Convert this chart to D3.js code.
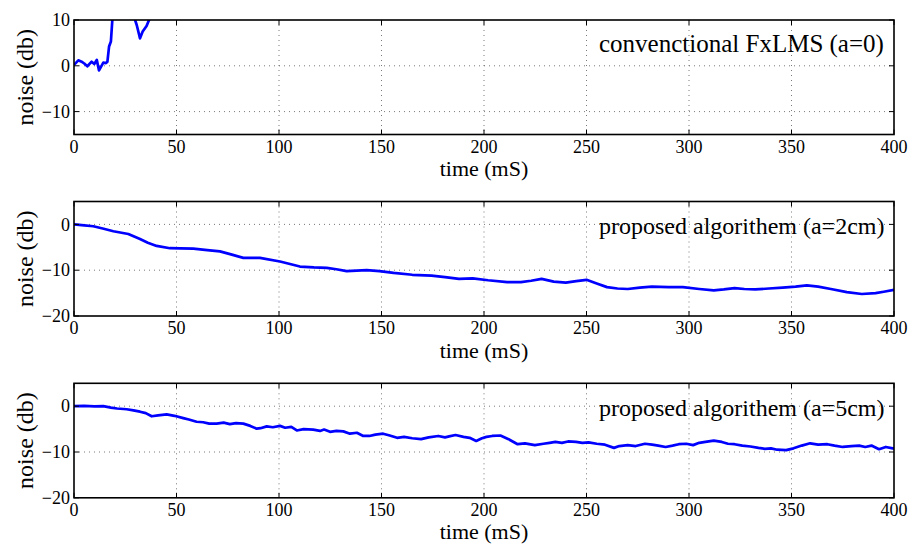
<!DOCTYPE html>
<html>
<head>
<meta charset="utf-8">
<script src="https://cdn.jsdelivr.net/npm/d3@7"></script>
</head>
<body style="margin:0; background:#fff">
<svg id="chart" width="912" height="544"></svg>
<script>
// x ticks shared by all panels
const xTicks = [0, 50, 100, 150, 200, 250, 300, 350, 400];

// panel 1: conventional FxLMS (diverges above the axis)
const t1 = [0, 2.1, 3.7, 5, 6.5, 8.6, 9.9, 11.1, 12.2, 14.3, 15.6, 16.3, 17.1, 18, 18.7, 20, 25, 29, 29.8, 30.6, 32.2, 33.5, 35.4, 36.6, 38, 40];
const v1 = [0.2, 1.2, 0.9, 0.5, -0.1, 0.9, 0.4, 1.3, -1.0, 0.7, 0.6, 0.9, 4.2, 5.3, 10, 14, 20, 14, 10, 8.9, 6.0, 7.5, 8.7, 10, 14, 20];

// panel 2: proposed algorithm a=2cm
const t2 = [0, 5, 9.4, 14, 19.2, 26.5, 32.2, 36, 40.3, 46.8, 52, 58.2, 65, 71.2, 77, 82.6, 90.7, 100.5, 110.2, 117, 123.3, 128, 133, 142.8, 149, 155.9, 165, 174.4, 181, 187.8, 194.5, 202, 211.3, 218, 223, 228.1, 234, 239.9, 245, 250, 255, 260, 265.1, 270.1, 276, 281.9, 290, 297, 305, 312.1, 317, 322.2, 327, 332.3, 339, 345.7, 352, 357.5, 363, 369.2, 377, 384.3, 391, 395, 400];
const v2 = [0, -0.2, -0.4, -0.9, -1.5, -2.1, -3.2, -4.0, -4.7, -5.2, -5.25, -5.3, -5.6, -5.9, -6.6, -7.3, -7.3, -8.1, -9.2, -9.4, -9.5, -9.8, -10.2, -10.0, -10.2, -10.6, -11.0, -11.2, -11.5, -11.9, -11.8, -12.2, -12.6, -12.6, -12.3, -11.9, -12.5, -12.7, -12.4, -12.1, -12.9, -13.7, -14.0, -14.1, -13.8, -13.6, -13.7, -13.7, -14.1, -14.4, -14.2, -13.9, -14.1, -14.2, -14.0, -13.8, -13.6, -13.3, -13.6, -14.1, -14.8, -15.2, -15.0, -14.7, -14.3];

// panel 3: proposed algorithm a=5cm (noisier)
const t3 = [0, 5, 10, 14.3, 18, 21, 25.7, 29, 32.2, 35, 37.9, 41, 45.2, 49, 53.3, 56, 59.8, 63, 66, 69.6, 73, 76, 79, 82.6, 86, 89.1, 91, 94, 97, 100.5, 103, 106, 108.7, 112, 116.7, 120, 122, 124.9, 128, 131.4, 134.6, 138, 141.1, 144.1, 147, 150.8, 154, 157.6, 161, 165, 169.3, 173, 177.7, 181, 183, 186.1, 190, 193, 196.2, 199, 201.2, 204, 208, 212, 216.4, 220, 224.8, 229, 232, 234.8, 238, 241, 244.9, 248, 251, 255, 259, 263.4, 266, 270.1, 274, 278.5, 282, 285, 288.6, 292, 295, 298.7, 302, 305, 308, 312.1, 316, 319, 322.2, 326, 330, 333.9, 337, 340, 343, 347.4, 351, 355, 359.1, 363, 367.5, 371, 375, 379.3, 383, 386, 389, 392.7, 396, 399.4, 400];
const v3 = [0, 0.05, -0.05, 0, -0.3, -0.5, -0.66, -0.9, -1.2, -1.5, -2.2, -2.0, -1.8, -2.1, -2.6, -2.9, -3.4, -3.5, -3.8, -3.8, -3.6, -3.9, -3.7, -3.8, -4.3, -4.9, -4.8, -4.4, -4.6, -4.3, -4.7, -4.5, -5.3, -5.0, -5.1, -5.4, -5.1, -5.6, -5.4, -5.5, -6.0, -5.8, -6.5, -6.5, -6.2, -6.0, -6.4, -6.9, -6.7, -7.0, -7.2, -6.8, -6.5, -6.8, -6.6, -6.3, -6.7, -6.9, -7.6, -7.0, -6.7, -6.5, -6.4, -7.2, -8.3, -8.1, -8.5, -8.2, -8.0, -7.8, -8.0, -7.7, -7.8, -8.0, -7.9, -8.2, -8.4, -9.1, -8.7, -8.5, -8.7, -8.2, -8.4, -8.6, -8.9, -8.6, -8.3, -8.2, -8.5, -8.0, -7.8, -7.5, -7.8, -8.2, -8.3, -8.6, -8.8, -9.1, -9.3, -9.2, -9.5, -9.6, -9.2, -8.6, -8.1, -8.4, -8.3, -8.6, -8.9, -8.7, -8.6, -8.9, -8.6, -9.4, -8.9, -9.2, -9.2];

const panels = [
  { t: t1, v: v1, top: 20, yDomain: [-15, 10], yTicks: [-10, 0, 10], label: "convenctional FxLMS (a=0)", labelY: 3.0, labelSize: 25 },
  { t: t2, v: v2, top: 201.5, yDomain: [-20, 5], yTicks: [-20, -10, 0], label: "proposed algorithem (a=2cm)", labelY: -2.2, labelSize: 24 },
  { t: t3, v: v3, top: 383.3, yDomain: [-20, 5], yTicks: [-20, -10, 0], label: "proposed algorithem (a=5cm)", labelY: -2.2, labelSize: 24 }
];

const FONT = '"Liberation Serif"';
const svg = d3.select("#chart");
const left = 74, right = 894, ph = 114.5;

const x = d3.scaleLinear().domain([0, 400]).range([left, right]);

panels.forEach((p, i) => {
  const y = d3.scaleLinear().domain(p.yDomain).range([p.top + ph, p.top]);
  const g = svg.append("g");

  g.append("clipPath").attr("id", "clip" + i)
    .append("rect").attr("x", left).attr("y", p.top).attr("width", right - left).attr("height", ph);

  // dotted grid
  g.selectAll(".gx").data(xTicks.slice(1, -1)).enter().append("line")
    .attr("x1", d => x(d)).attr("x2", d => x(d))
    .attr("y1", p.top).attr("y2", p.top + ph)
    .attr("stroke", "#555").attr("stroke-width", 0.8).attr("stroke-dasharray", "1,4");
  g.selectAll(".gy").data(p.yTicks.filter(d => d > p.yDomain[0] && d < p.yDomain[1])).enter().append("line")
    .attr("x1", left).attr("x2", right)
    .attr("y1", d => y(d)).attr("y2", d => y(d))
    .attr("stroke", "#555").attr("stroke-width", 0.8).attr("stroke-dasharray", "1,4");

  // annotation
  g.append("text")
    .attr("x", 599).attr("y", y(p.labelY))
    .style("font-family", FONT).style("font-size", p.labelSize + "px")
    .text(p.label);

  // line
  const line = d3.line().x((d, k) => x(p.t[k])).y(d => y(d));
  g.append("path")
    .attr("d", line(p.v))
    .attr("clip-path", "url(#clip" + i + ")")
    .attr("fill", "none").attr("stroke", "#0000ff").attr("stroke-width", 2.7)
    .attr("stroke-linejoin", "round");

  // inward ticks on all four sides
  const tickLen = 5;
  xTicks.forEach(d => {
    g.append("line").attr("x1", x(d)).attr("x2", x(d)).attr("y1", p.top + ph).attr("y2", p.top + ph - tickLen).attr("stroke", "#000");
    g.append("line").attr("x1", x(d)).attr("x2", x(d)).attr("y1", p.top).attr("y2", p.top + tickLen).attr("stroke", "#000");
  });
  p.yTicks.forEach(d => {
    g.append("line").attr("x1", left).attr("x2", left + tickLen).attr("y1", y(d)).attr("y2", y(d)).attr("stroke", "#000");
    g.append("line").attr("x1", right).attr("x2", right - tickLen).attr("y1", y(d)).attr("y2", y(d)).attr("stroke", "#000");
  });

  // frame
  g.append("rect").attr("x", left).attr("y", p.top).attr("width", right - left).attr("height", ph)
    .attr("fill", "none").attr("stroke", "#000").attr("stroke-width", 1.6);

  // tick labels
  g.selectAll(".xl").data(xTicks).enter().append("text")
    .attr("x", d => x(d)).attr("y", p.top + ph + 18)
    .attr("text-anchor", "middle")
    .style("font-family", FONT).style("font-size", "18px")
    .text(d => d);
  g.selectAll(".yl").data(p.yTicks).enter().append("text")
    .attr("x", left - 4).attr("y", d => y(d)).attr("dy", "0.34em")
    .attr("text-anchor", "end")
    .style("font-family", FONT).style("font-size", "18px")
    .text(d => d < 0 ? "\u2212" + Math.abs(d) : d);

  // axis labels
  g.append("text")
    .attr("x", (left + right) / 2).attr("y", p.top + ph + 41.5)
    .attr("text-anchor", "middle")
    .style("font-family", FONT).style("font-size", "22px")
    .text("time (mS)");
  g.append("text")
    .attr("transform", `translate(33,${p.top + ph / 2}) rotate(-90)`)
    .attr("text-anchor", "middle")
    .style("font-family", FONT).style("font-size", "24px")
    .text("noise (db)");
});
</script>
</body>
</html>
